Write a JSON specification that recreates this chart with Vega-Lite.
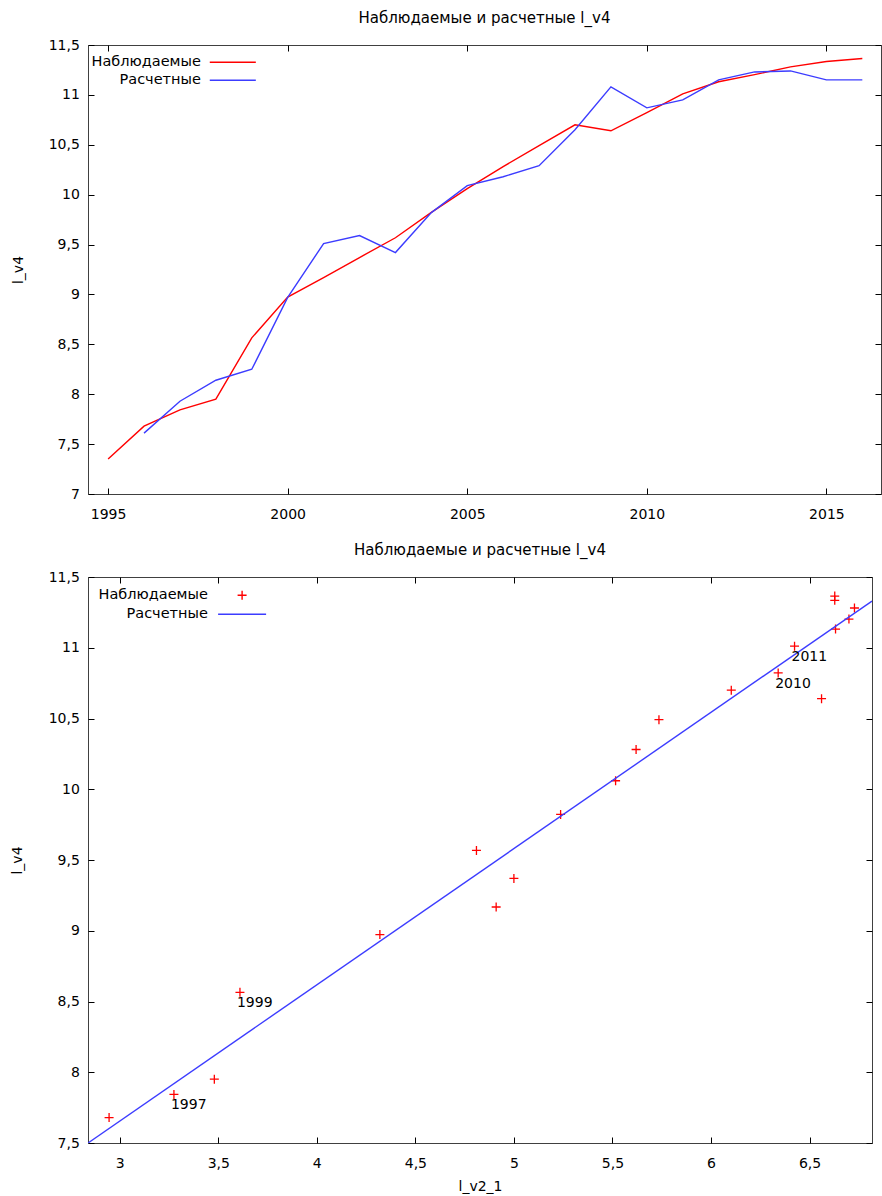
{
  "$schema": "https://vega.github.io/schema/vega-lite/v6.json",
  "padding": {"left": 9, "top": 10, "right": 0, "bottom": 5},
  "spacing": 20,
  "resolve": {"scale": {"color": "independent", "shape": "independent"}, "legend": {"color": "independent", "shape": "independent"}},
  "datasets": {
    "ts": [
      {"year": 1995, "series": "Наблюдаемые", "value": 7.35},
      {"year": 1996, "series": "Наблюдаемые", "value": 7.68},
      {"year": 1997, "series": "Наблюдаемые", "value": 7.843},
      {"year": 1998, "series": "Наблюдаемые", "value": 7.951},
      {"year": 1999, "series": "Наблюдаемые", "value": 8.565},
      {"year": 2000, "series": "Наблюдаемые", "value": 8.973},
      {"year": 2001, "series": "Наблюдаемые", "value": 9.168},
      {"year": 2002, "series": "Наблюдаемые", "value": 9.37},
      {"year": 2003, "series": "Наблюдаемые", "value": 9.568},
      {"year": 2004, "series": "Наблюдаемые", "value": 9.822},
      {"year": 2005, "series": "Наблюдаемые", "value": 10.06},
      {"year": 2006, "series": "Наблюдаемые", "value": 10.281},
      {"year": 2007, "series": "Наблюдаемые", "value": 10.492},
      {"year": 2008, "series": "Наблюдаемые", "value": 10.7},
      {"year": 2009, "series": "Наблюдаемые", "value": 10.64},
      {"year": 2010, "series": "Наблюдаемые", "value": 10.822},
      {"year": 2011, "series": "Наблюдаемые", "value": 11.011},
      {"year": 2012, "series": "Наблюдаемые", "value": 11.132},
      {"year": 2013, "series": "Наблюдаемые", "value": 11.203},
      {"year": 2014, "series": "Наблюдаемые", "value": 11.281},
      {"year": 2015, "series": "Наблюдаемые", "value": 11.335},
      {"year": 2016, "series": "Наблюдаемые", "value": 11.365},
      {"year": 1996, "series": "Расчетные", "value": 7.61},
      {"year": 1997, "series": "Расчетные", "value": 7.93},
      {"year": 1998, "series": "Расчетные", "value": 8.14},
      {"year": 1999, "series": "Расчетные", "value": 8.25},
      {"year": 2000, "series": "Расчетные", "value": 8.97},
      {"year": 2001, "series": "Расчетные", "value": 9.51},
      {"year": 2002, "series": "Расчетные", "value": 9.59},
      {"year": 2003, "series": "Расчетные", "value": 9.42},
      {"year": 2004, "series": "Расчетные", "value": 9.82},
      {"year": 2005, "series": "Расчетные", "value": 10.09},
      {"year": 2006, "series": "Расчетные", "value": 10.18},
      {"year": 2007, "series": "Расчетные", "value": 10.29},
      {"year": 2008, "series": "Расчетные", "value": 10.65},
      {"year": 2009, "series": "Расчетные", "value": 11.08},
      {"year": 2010, "series": "Расчетные", "value": 10.87},
      {"year": 2011, "series": "Расчетные", "value": 10.95},
      {"year": 2012, "series": "Расчетные", "value": 11.15},
      {"year": 2013, "series": "Расчетные", "value": 11.23},
      {"year": 2014, "series": "Расчетные", "value": 11.24},
      {"year": 2015, "series": "Расчетные", "value": 11.15},
      {"year": 2016, "series": "Расчетные", "value": 11.15}
    ],
    "xy": [
      {"year": 1996, "lv2_1": 2.946, "lv4": 7.68, "series": "Наблюдаемые", "label": ""},
      {"year": 1997, "lv2_1": 3.275, "lv4": 7.843, "series": "Наблюдаемые", "label": "1997"},
      {"year": 1998, "lv2_1": 3.48, "lv4": 7.951, "series": "Наблюдаемые", "label": ""},
      {"year": 1999, "lv2_1": 3.61, "lv4": 8.565, "series": "Наблюдаемые", "label": "1999"},
      {"year": 2000, "lv2_1": 4.32, "lv4": 8.973, "series": "Наблюдаемые", "label": ""},
      {"year": 2001, "lv2_1": 4.91, "lv4": 9.168, "series": "Наблюдаемые", "label": ""},
      {"year": 2002, "lv2_1": 5.0, "lv4": 9.37, "series": "Наблюдаемые", "label": ""},
      {"year": 2003, "lv2_1": 4.81, "lv4": 9.568, "series": "Наблюдаемые", "label": ""},
      {"year": 2004, "lv2_1": 5.237, "lv4": 9.822, "series": "Наблюдаемые", "label": ""},
      {"year": 2005, "lv2_1": 5.516, "lv4": 10.06, "series": "Наблюдаемые", "label": ""},
      {"year": 2006, "lv2_1": 5.62, "lv4": 10.281, "series": "Наблюдаемые", "label": ""},
      {"year": 2007, "lv2_1": 5.736, "lv4": 10.492, "series": "Наблюдаемые", "label": ""},
      {"year": 2008, "lv2_1": 6.103, "lv4": 10.7, "series": "Наблюдаемые", "label": ""},
      {"year": 2009, "lv2_1": 6.561, "lv4": 10.64, "series": "Наблюдаемые", "label": ""},
      {"year": 2010, "lv2_1": 6.341, "lv4": 10.822, "series": "Наблюдаемые", "label": "2010"},
      {"year": 2011, "lv2_1": 6.424, "lv4": 11.011, "series": "Наблюдаемые", "label": "2011"},
      {"year": 2012, "lv2_1": 6.632, "lv4": 11.132, "series": "Наблюдаемые", "label": ""},
      {"year": 2013, "lv2_1": 6.7, "lv4": 11.203, "series": "Наблюдаемые", "label": ""},
      {"year": 2014, "lv2_1": 6.728, "lv4": 11.281, "series": "Наблюдаемые", "label": ""},
      {"year": 2015, "lv2_1": 6.628, "lv4": 11.335, "series": "Наблюдаемые", "label": ""},
      {"year": 2016, "lv2_1": 6.628, "lv4": 11.365, "series": "Наблюдаемые", "label": ""}
    ],
    "fit": [
      {"lv2_1": 2.839, "lv4": 7.5, "series": "Расчетные"},
      {"lv2_1": 6.817, "lv4": 11.33, "series": "Расчетные"}
    ]
  },
  "config": {
    "font": "DejaVu Sans",
    "view": {"stroke": "#404040", "strokeWidth": 1},
    "axis": {
      "domain": false, "grid": false,
      "labelFontSize": 14, "labelColor": "#000", "labelFont": "DejaVu Sans",
      "tickColor": "#000", "tickWidth": 1,
      "titleFontSize": 14, "titleFontWeight": "normal", "titleColor": "#000", "titleFont": "DejaVu Sans",
      "labelFlush": false, "labelOverlap": false
    },
    "title": {"fontSize": 15, "fontWeight": "normal", "color": "#000", "font": "DejaVu Sans", "frame": "group", "anchor": "middle"},
    "legend": {"labelFontSize": 14.5, "labelColor": "#000", "labelFont": "DejaVu Sans", "padding": 0, "rowPadding": 3}
  },
  "vconcat": [
    {
      "width": 793,
      "height": 449,
      "title": {"text": "Наблюдаемые и расчетные l_v4", "offset": 12},
      "layer": [
        {
          "data": {"name": "ts"},
          "transform": [{"filter": "datum.series === 'Наблюдаемые'"}],
          "mark": {"type": "line", "strokeWidth": 1.4, "clip": true},
          "encoding": {
            "x": {"field": "year", "type": "quantitative",
              "scale": {"domain": [1994.44, 2016.52], "nice": false, "zero": false},
              "axis": {"orient": "bottom", "values": [1995, 2000, 2005, 2010, 2015], "format": "d", "title": null, "offset": -6, "tickSize": 6, "labelPadding": 13.4}},
            "y": {"field": "value", "type": "quantitative",
              "scale": {"domain": [7, 11.5], "nice": false, "zero": false},
              "axis": {"orient": "left", "values": [7, 7.5, 8, 8.5, 9, 9.5, 10, 10.5, 11, 11.5],
                "labelExpr": "replace(format(datum.value, '~g'), '.', ',')",
                "title": "l_v4", "offset": -6, "tickSize": 6, "labelPadding": 8.7,
                "titleX": -76, "titleY": 224.5, "titleAngle": 270, "titleBaseline": "middle", "titleAlign": "center"}},
            "color": {"field": "series", "type": "nominal",
              "scale": {"domain": ["Наблюдаемые", "Расчетные"], "range": ["#ff0000", "#3c3cff"]},
              "legend": {"orient": "none", "legendX": 136.3, "legendY": 8.8, "title": null,
                "symbolType": "M-3.07,0L3.07,0", "symbolSize": 225, "symbolStrokeWidth": 1.4,
                "labelAlign": "right", "labelOffset": -40.4}}
          }
        },
        {
          "data": {"name": "ts"},
          "transform": [{"filter": "datum.series === 'Расчетные'"}],
          "mark": {"type": "line", "strokeWidth": 1.4, "clip": true},
          "encoding": {
            "x": {"field": "year", "type": "quantitative",
              "axis": {"orient": "top", "values": [1995, 2000, 2005, 2010, 2015], "labels": false, "title": null, "offset": -6, "tickSize": 6}},
            "y": {"field": "value", "type": "quantitative",
              "axis": {"orient": "right", "values": [7, 7.5, 8, 8.5, 9, 9.5, 10, 10.5, 11, 11.5], "labels": false, "title": null, "offset": -6, "tickSize": 6}},
            "color": {"field": "series", "type": "nominal"}
          }
        }
      ],
      "resolve": {"axis": {"x": "independent", "y": "independent"}}
    },
    {
      "width": 784,
      "height": 566,
      "title": {"text": "Наблюдаемые и расчетные l_v4", "offset": 12},
      "layer": [
        {
          "data": {"name": "xy"},
          "mark": {"type": "point", "filled": false, "size": 225, "strokeWidth": 1.3, "opacity": 1, "clip": true},
          "encoding": {
            "x": {"field": "lv2_1", "type": "quantitative",
              "scale": {"domain": [2.839, 6.817], "nice": false, "zero": false},
              "axis": {"orient": "bottom", "values": [3, 3.5, 4, 4.5, 5, 5.5, 6, 6.5],
                "labelExpr": "replace(format(datum.value, '~g'), '.', ',')",
                "title": "l_v2_1", "offset": -6, "tickSize": 6, "labelPadding": 13.7,
                "titleY": 49, "titleBaseline": "middle"}},
            "y": {"field": "lv4", "type": "quantitative",
              "scale": {"domain": [7.5, 11.5], "nice": false, "zero": false},
              "axis": {"orient": "left", "values": [7.5, 8, 8.5, 9, 9.5, 10, 10.5, 11, 11.5],
                "labelExpr": "replace(format(datum.value, '~g'), '.', ',')",
                "title": "l_v4", "offset": -6, "tickSize": 6, "labelPadding": 8.7,
                "titleX": -77, "titleY": 283, "titleAngle": 270, "titleBaseline": "middle", "titleAlign": "center"}},
            "color": {"field": "series", "type": "nominal",
              "scale": {"domain": ["Наблюдаемые", "Расчетные"], "range": ["#ff0000", "#3c3cff"]},
              "legend": {"orient": "none", "legendX": 145.6, "legendY": 9.8, "title": null,
                "symbolSize": 225, "symbolStrokeWidth": 1.4,
                "labelAlign": "right", "labelOffset": -42.7}},
            "shape": {"field": "series", "type": "nominal",
              "scale": {"domain": ["Наблюдаемые", "Расчетные"], "range": ["M-0.6,0L0.6,0M0,-0.6L0,0.6", "M-3.2,0L3.2,0"]},
              "legend": {"orient": "none", "legendX": 145.6, "legendY": 9.8, "title": null,
                "symbolSize": 225, "symbolStrokeWidth": 1.4,
                "labelAlign": "right", "labelOffset": -42.7}}
          }
        },
        {
          "data": {"name": "fit"},
          "mark": {"type": "line", "strokeWidth": 1.4, "clip": true},
          "encoding": {
            "x": {"field": "lv2_1", "type": "quantitative",
              "axis": {"orient": "top", "values": [3, 3.5, 4, 4.5, 5, 5.5, 6, 6.5], "labels": false, "title": null, "offset": -6, "tickSize": 6}},
            "y": {"field": "lv4", "type": "quantitative",
              "axis": {"orient": "right", "values": [7.5, 8, 8.5, 9, 9.5, 10, 10.5, 11, 11.5], "labels": false, "title": null, "offset": -6, "tickSize": 6}},
            "color": {"field": "series", "type": "nominal"}
          }
        },
        {
          "data": {"name": "xy"},
          "transform": [{"filter": "datum.label !== ''"}],
          "mark": {"type": "text", "align": "left", "baseline": "middle", "dx": -3, "dy": 11, "fontSize": 14, "color": "#000"},
          "encoding": {
            "x": {"field": "lv2_1", "type": "quantitative", "axis": null},
            "y": {"field": "lv4", "type": "quantitative", "axis": null},
            "text": {"field": "label"}
          }
        }
      ],
      "resolve": {"axis": {"x": "independent", "y": "independent"}}
    }
  ]
}
